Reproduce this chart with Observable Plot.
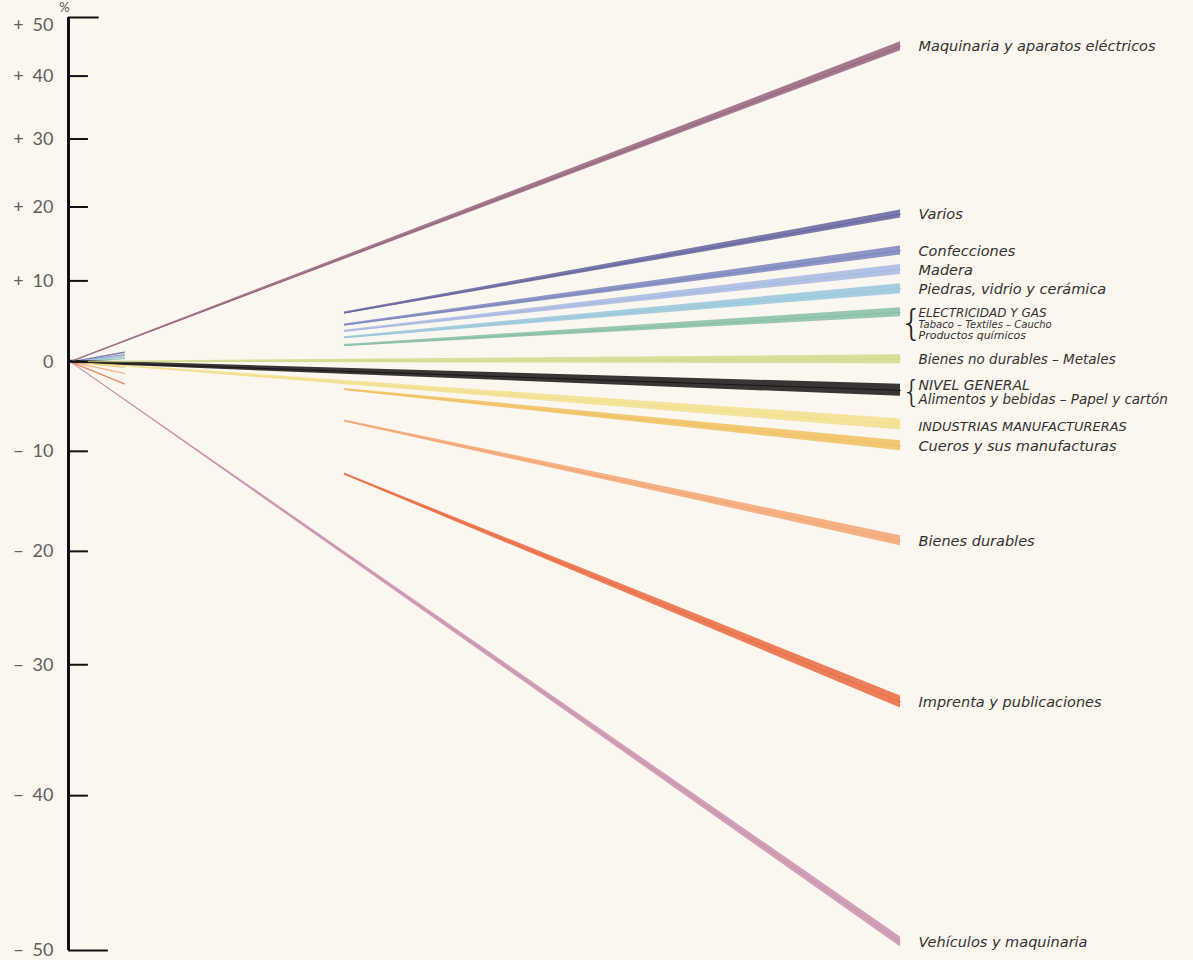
<!DOCTYPE html>
<html><head><meta charset="utf-8">
<script src="https://cdn.jsdelivr.net/npm/d3@7"></script>
<script src="https://cdn.jsdelivr.net/npm/@observablehq/plot@0.6"></script>
<style>
html,body{margin:0;padding:0;background:#fbf6ee;}
#chart{width:1193px;height:960px;overflow:hidden;}
</style></head><body><div id="chart"></div>
<script>
// ---- data ----
const series = [
  "Maquinaria y aparatos eléctricos", "Varios", "Confecciones", "Madera",
  "Piedras, vidrio y cerámica", "Electricidad y gas", "Bienes no durables – Metales",
  "Nivel general", "Industrias manufactureras", "Cueros y sus manufacturas",
  "Bienes durables", "Imprenta y publicaciones", "Vehículos y maquinaria"
];
// percentage change at the end of the period
const changePct = [45, 19, 14, 11.5, 9, 6, 0.3, -3.3, -7.1, -9.4, -19, -33, -49.5];
const labelLines = [
  ["Maquinaria y aparatos eléctricos"], ["Varios"], ["Confecciones"], ["Madera"],
  ["Piedras, vidrio y cerámica"],
  ["ELECTRICIDAD Y GAS", "Tabaco – Textiles – Caucho", "Productos químicos"],
  ["Bienes no durables – Metales"],
  ["NIVEL GENERAL", "Alimentos y bebidas – Papel y cartón"],
  ["INDUSTRIAS MANUFACTURERAS"], ["Cueros y sus manufacturas"],
  ["Bienes durables"], ["Imprenta y publicaciones"], ["Vehículos y maquinaria"]
];
const fromOrigin = ["Maquinaria y aparatos eléctricos", "Bienes no durables – Metales",
  "Nivel general", "Industrias manufactureras", "Vehículos y maquinaria"];
const bracketed = ["Electricidad y gas", "Nivel general"];
const yTicks = [50, 40, 30, 20, 10, 0, -10, -20, -30, -40, -50];
const tickLabels = ["+\u200250", "+\u200240", "+\u200230", "+\u200220", "+\u200210", "0",
  "−\u200210", "−\u200220", "−\u200230", "−\u200240", "−\u200250"];

// ---- styles ----
const colors = ["#94627b", "#62639f", "#7884bd", "#a6b7e3", "#97c6dc", "#85bea4", "#d3d98c",
  "#151313", "#f1df8c", "#f1bf5f", "#f3a471", "#e9693f", "#c98fab"];
const endWidth = [9, 8, 9, 10, 10, 9, 9, 12, 11, 10, 10, 12, 10];
// vertical offsets (px) and sizes of label lines
const lineOffsetPx = {"ELECTRICIDAD Y GAS": 1, "Tabaco – Textiles – Caucho": 12.5, "Productos químicos": 23,
  "NIVEL GENERAL": -5, "Alimentos y bebidas – Papel y cartón": 9.5, "INDUSTRIAS MANUFACTURERAS": 2};
const lineSize = {"ELECTRICIDAD Y GAS": 12, "Tabaco – Textiles – Caucho": 10, "Productos químicos": 11,
  "NIVEL GENERAL": 14, "Alimentos y bebidas – Papel y cartón": 13.5, "INDUSTRIAS MANUFACTURERAS": 13,
  "Bienes no durables – Metales": 13.5};
const braceOffsetPx = {"Electricidad y gas": 11, "Nivel general": 2.5};
const braceSize = {"Electricidad y gas": 36, "Nivel general": 30};
const bandStart = 0.33;   // fraction of the period where the coloured bands begin
const W = 1193, H = 960, mt = 17, mb = 10;
const pxPerLog = (H - mt - mb) / Math.log(3);

const endIndex = p => 100 + p;
const valueAt = (p, t) => 100 * Math.pow(1 + p / 100, t);
const shiftPx = (v, px) => v * Math.exp(-px / pxPerLog);

const bandRows = series.flatMap((s, i) => {
  const full = fromOrigin.includes(s);
  const t0 = full ? 0 : bandStart;
  const w0 = (s === "Nivel general" ? 3 : full ? 0.8 : 2) / 2 / pxPerLog;
  const w1 = endWidth[i] / 2 / pxPerLog;
  return [[t0, w0], [1, w1]].map(([t, w]) => ({
    series: s, t, c: colors[i],
    v: valueAt(changePct[i], t),
    lo: valueAt(changePct[i], t) * Math.exp(-w),
    hi: valueAt(changePct[i], t) * Math.exp(w)
  }));
});
const stubRows = series.flatMap((s, i) => fromOrigin.includes(s) ? [] :
  [0, 0.065].map(t => ({series: s, t, c: colors[i], v: valueAt(changePct[i], t)})));

const labelRows = series.flatMap((s, i) => labelLines[i].map(text => ({
  series: s, text, v: shiftPx(endIndex(changePct[i]), lineOffsetPx[text] || 0.5), size: lineSize[text] || 14.5
})));
const braceRows = series.map((s, i) => ({series: s, v: endIndex(changePct[i])}))
  .filter(d => bracketed.includes(d.series))
  .map(d => ({...d, v: shiftPx(d.v, braceOffsetPx[d.series]), size: braceSize[d.series]}));
const order = s => s === "Nivel general" ? 1 : 0;
const bandsSorted = bandRows.slice().sort((a, b) => order(a.series) - order(b.series));
const tickRows = yTicks.map(p => ({v: endIndex(p), x2: p === 50 ? 0.037 : p === -50 ? 0.048 : 0.024}));
const tickTextRows = yTicks.map((p, i) => ({v: endIndex(p), text: tickLabels[i]}));

const labelFont = "'DejaVu Sans', sans-serif";
const tickFont = "Lato, 'Open Sans', sans-serif";

const plot = Plot.plot({
  width: W, height: H,
  marginTop: mt, marginBottom: mb, marginLeft: 68, marginRight: 293, insetLeft: 2,
  style: {background: "#fbf6ee", overflow: "visible"},
  x: {domain: [0, 1], axis: null},
  y: {type: "log", domain: [50, 150], axis: null},
  marks: [
    // stubs near the origin
    Plot.line(stubRows, {x: "t", y: "v", z: "series", stroke: "c", strokeWidth: 1.3, strokeOpacity: 0.8}),
    // tapered coloured bands
    Plot.areaY(bandsSorted, {x: "t", y1: "lo", y2: "hi", z: "series", fill: "c", fillOpacity: 0.85, curve: "linear"}),
    Plot.line(bandsSorted, {x: "t", y: "v", z: "series", stroke: "c", strokeWidth: 1, strokeOpacity: 0.9}),
    // axis
    Plot.ruleX([0], {x: d => d, y1: () => 50, y2: () => 150, dx: -2, stroke: "#111", strokeWidth: 3}),
    Plot.ruleY(tickRows, {y: "v", x1: () => 0, x2: "x2", dx: -2, stroke: "#111", strokeWidth: 2}),
    Plot.text(tickTextRows.filter(d => d.v !== 150), {x: () => 0, y: "v", text: "text", dx: -17, textAnchor: "end",
      fontSize: 18, fill: "#606060", fontFamily: tickFont}),
    Plot.text(tickTextRows.filter(d => d.v === 150), {x: () => 0, y: "v", text: "text", dx: -17, dy: 8, textAnchor: "end",
      fontSize: 18, fill: "#606060", fontFamily: tickFont}),
    Plot.text(["%"], {x: () => 0, y: () => 150, text: d => d, dx: -6, dy: -10, fontSize: 13, fill: "#555", fontFamily: tickFont}),
    // braces
    Plot.text(braceRows, {x: () => 1, y: "v", text: () => "{", dx: 11, textAnchor: "middle",
      fontSize: "size", fill: "#222", fontFamily: "'DejaVu Sans ExtraLight', 'DejaVu Sans', sans-serif", fontWeight: 200}),
    // labels
    Plot.text(labelRows, {x: () => 1, y: "v", text: "text", dx: 18, textAnchor: "start",
      fontSize: "size", fontStyle: "italic", fill: "#333", fontFamily: labelFont})
  ]
});
document.getElementById("chart").appendChild(plot);
</script>
</body></html>
